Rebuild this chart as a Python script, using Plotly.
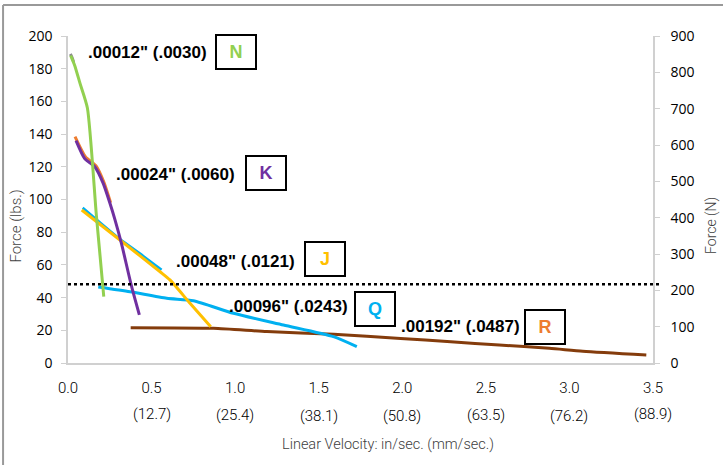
import plotly.graph_objects as go

# ---- data ----
n_x = [0.016, 0.04, 0.072, 0.116, 0.17, 0.214]
n_y = [188.0, 182.0, 171.0, 156.0, 90.0, 40.6]
ng_x = [0.014, 0.024, 0.034]
ng_y = [189.0, 187.0, 184.0]

k_x = [0.048, 0.10, 0.16, 0.21, 0.25, 0.28, 0.32, 0.38, 0.427]
k_y = [136.0, 125.0, 120.0, 110.0, 98.0, 88.0, 73.0, 47.0, 29.4]
ko_x = [0.042, 0.105, 0.168, 0.215, 0.255]
ko_y = [138.4, 126.0, 120.5, 110.5, 98.0]

j_x = [0.082, 0.311, 0.551, 0.61, 0.73, 0.854]
j_y = [93.6, 75.2, 55.8, 50.8, 36.5, 22.2]

qa_x = [0.088, 0.311, 0.45, 0.56]
qa_y = [95.0, 75.8, 65.5, 57.0]
q_x = [0.181, 0.371, 0.591, 0.75, 0.99, 1.289, 1.588, 1.728]
q_y = [46.5, 43.6, 39.6, 38.1, 30.4, 23.2, 16.1, 10.0]

r_x = [0.375, 0.87, 1.19, 1.59, 1.99, 2.29, 2.58, 2.88, 3.08, 3.46]
r_y = [21.6, 21.2, 19.2, 17.6, 15.0, 13.0, 11.0, 9.0, 7.2, 4.9]

limit_force = 48.1

x_ticks = [0.0, 0.5, 1.0, 1.5, 2.0, 2.5, 3.0, 3.5]
x_tick_text = ["0.0", "0.5", "1.0", "1.5", "2.0", "2.5", "3.0", "3.5"]
mm_ticks = [0.5, 1.0, 1.5, 2.0, 2.5, 3.0, 3.5]
mm_text = ["(12.7)", "(25.4)", "(38.1)", "(50.8)", "(63.5)", "(76.2)", "(88.9)"]
mm_offset = [0, 1, 1.5, 1.5, 1, 1.5, 0]  # slight vertical stagger in px

left_ticks = [0, 20, 40, 60, 80, 100, 120, 140, 160, 180, 200]
right_ticks = [0, 100, 200, 300, 400, 500, 600, 700, 800, 900]

labels = ['.00012" (.0030)', '.00024" (.0060)', '.00048" (.0121)', '.00096" (.0243)', '.00192" (.0487)']
label_x = [0.844, 1.011, 1.370, 1.687, 2.715]
label_y = [190.0, 115.0, 62.0, 34.4, 22.2]
letters = ["N", "K", "J", "Q", "R"]
letter_x = [1.005, 1.182, 1.535, 1.837, 2.851]
letter_y = [190.2, 116.0, 63.7, 33.1, 22.3]
letter_colors = ["#92D050", "#7030A0", "#FFC000", "#00B0F0", "#ED7D31"]

NARROW = "Roboto"

fig = go.Figure()

def add_line(x, y, color, width=3):
    fig.add_trace(go.Scatter(x=x, y=y, mode="lines",
                             line=dict(color=color, width=width, shape="spline", smoothing=0.6),
                             showlegend=False, hoverinfo="skip"))

add_line(r_x, r_y, "#843C0C")
add_line(q_x, q_y, "#00B0F0")
add_line(qa_x, qa_y, "#00B0F0", 2.5)
add_line(j_x, j_y, "#FFC000")
add_line(ko_x, ko_y, "#ED7D31")
add_line(k_x, k_y, "#7030A0")
add_line(ng_x, ng_y, "#8C8C8C", 3)
add_line(n_x, n_y, "#92D050")

# invisible trace for right axis
fig.add_trace(go.Scatter(x=[0], y=[0], yaxis="y2", mode="markers",
                         marker=dict(opacity=0), showlegend=False, hoverinfo="skip"))

fig.update_layout(
    width=723, height=465,
    margin=dict(l=68, r=70, t=36, b=102),
    paper_bgcolor="white", plot_bgcolor="white",
    xaxis=dict(range=[0, 3.5], tickvals=x_ticks, ticktext=x_tick_text, automargin=False,
               showgrid=False, zeroline=False, showline=True, linecolor="#D0D0D0", linewidth=1.5,
               ticks="", ticklabelstandoff=10,
               tickfont=dict(family=NARROW, size=15, color="#000000", weight=300)),
    yaxis=dict(range=[0, 200], tickvals=left_ticks, showgrid=False, zeroline=False, automargin=False,
               showline=True, linecolor="#D0D0D0", linewidth=1.5,
               ticks="outside", ticklen=5, tickcolor="#D0D0D0", ticklabelstandoff=6,
               tickfont=dict(family="Open Sans", size=14, color="#000000")),
    yaxis2=dict(range=[0, 900], tickvals=right_ticks, overlaying="y", side="right", automargin=False,
                showgrid=False, zeroline=False, showline=True, linecolor="#D0D0D0", linewidth=1.5,
                ticks="outside", ticklen=5, tickcolor="#D0D0D0", ticklabelstandoff=8,
                tickfont=dict(family="Open Sans", size=14, color="#000000")),
)

# dotted limit line
fig.add_shape(type="line", xref="paper", yref="y", x0=0, x1=1.015, y0=limit_force, y1=limit_force,
              line=dict(color="black", width=2.5, dash="dot"))

# frame (left and top edges)
fig.add_shape(type="line", xref="paper", yref="paper", x0=-0.111, x1=-0.111, y0=-0.32, y1=1.095,
              line=dict(color="#999999", width=2), layer="above")
fig.add_shape(type="line", xref="paper", yref="paper", x0=-0.111, x1=1.13, y0=1.095, y1=1.095,
              line=dict(color="#999999", width=2), layer="above")

# second row of x tick labels (mm/sec)
for xv, t, off in zip(mm_ticks, mm_text, mm_offset):
    fig.add_annotation(x=xv, xref="x", y=-(51 + off) / 327, yref="paper", text=t, showarrow=False,
                       xanchor="center", yanchor="middle",
                       font=dict(family=NARROW, size=15, color="#000000", weight=300))

# axis titles
fig.add_annotation(x=0.547, y=-0.248, xref="paper", yref="paper", text="Linear Velocity: in/sec. (mm/sec.)",
                   showarrow=False, xanchor="center", yanchor="middle",
                   font=dict(family=NARROW, size=14.5, color="#404040", weight=300))
fig.add_annotation(x=-0.089, y=0.42, xref="paper", yref="paper", text="Force (lbs.)", textangle=-90,
                   showarrow=False, xanchor="center", yanchor="middle",
                   font=dict(family=NARROW, size=15, color="#404040", weight=300))
fig.add_annotation(x=1.099, y=0.422, xref="paper", yref="paper", text="Force (N)", textangle=-90,
                   showarrow=False, xanchor="center", yanchor="middle",
                   font=dict(family=NARROW, size=14, color="#404040", weight=300))

# series labels and boxed letters
for t, lx, ly in zip(labels, label_x, label_y):
    fig.add_annotation(x=lx, y=ly, xref="x", yref="y", text="<b>" + t + "</b>", showarrow=False,
                       xanchor="right", yanchor="middle",
                       font=dict(family="Liberation Sans, Arial", size=17, color="#000000"))
for t, lx, ly, c in zip(letters, letter_x, letter_y, letter_colors):
    fig.add_annotation(x=lx, y=ly, xref="x", yref="y", text="<b>" + t + "</b>", showarrow=False,
                       xanchor="center", yanchor="middle", width=38, height=32,
                       bordercolor="#000000", borderwidth=2, borderpad=0, bgcolor="white",
                       font=dict(family="Liberation Sans, Arial", size=18, color=c))

fig.write_html("out.html", config={"displayModeBar": False},
               post_script="document.body.style.margin='0';document.body.style.overflow='hidden';")
